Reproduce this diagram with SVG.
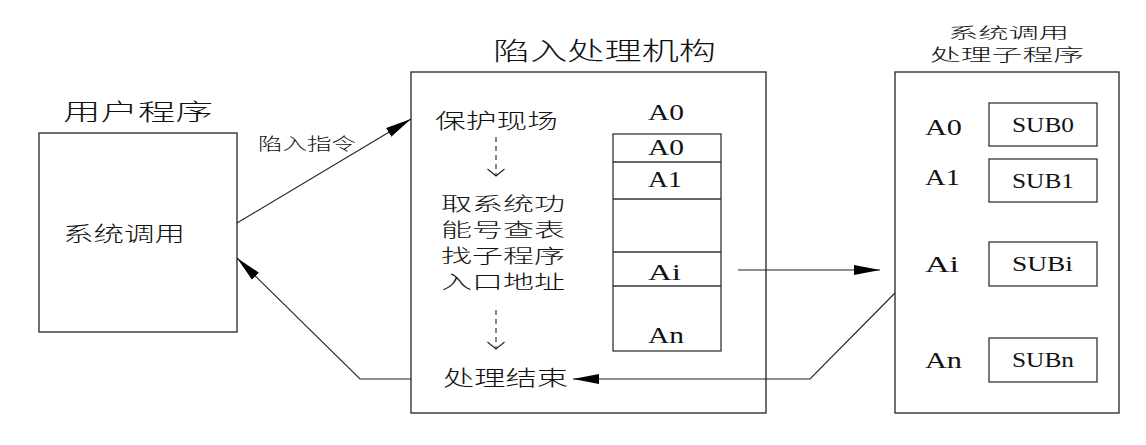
<svg xmlns="http://www.w3.org/2000/svg" width="1146" height="445" viewBox="0 0 1146 445">
<style>
.box{fill:#fff;stroke:#333;stroke-width:1.4}
.cell{fill:none;stroke:#333;stroke-width:1.3}
.cn{font-family:"Noto Sans CJK SC","Noto Sans CJK JP",sans-serif;fill:#111;font-weight:300}
.lt{font-family:"Liberation Serif",serif;fill:#111}
.conn{fill:none;stroke:#222;stroke-width:1.1}
.dash{fill:none;stroke:#222;stroke-width:1.1;stroke-dasharray:5,4}
</style>
<defs>
<marker id="ah" markerUnits="userSpaceOnUse" markerWidth="26" markerHeight="12" refX="26" refY="6" orient="auto">
<path d="M0,1 L26,6 L0,11 z" fill="#000"/>
</marker>
<marker id="open" markerUnits="userSpaceOnUse" markerWidth="20" markerHeight="20" refX="10" refY="10" orient="auto">
<path d="M3,1.5 L10,10 L3,18.5" fill="none" stroke="#222" stroke-width="1.1"/>
</marker>
</defs>
<rect width="1146" height="445" fill="#fff"/>

<g id="user-program">
<text class="cn" x="63" y="120" font-size="23" textLength="150" lengthAdjust="spacingAndGlyphs">用户程序</text>
<rect class="box" x="39" y="133" width="198" height="199"/>
<text class="cn" x="63" y="241" font-size="21" textLength="122" lengthAdjust="spacingAndGlyphs">系统调用</text>
</g>

<g id="trap-mechanism">
<text class="cn" x="493" y="60" font-size="25" textLength="223" lengthAdjust="spacingAndGlyphs">陷入处理机构</text>
<rect class="box" x="411" y="72" width="355" height="341"/>
<text class="cn" x="435" y="128" font-size="21" textLength="123" lengthAdjust="spacingAndGlyphs">保护现场</text>
<text class="cn" x="441" y="211" font-size="19" textLength="124" lengthAdjust="spacingAndGlyphs">取系统功</text>
<text class="cn" x="441" y="237" font-size="19" textLength="124" lengthAdjust="spacingAndGlyphs">能号查表</text>
<text class="cn" x="441" y="263" font-size="19" textLength="124" lengthAdjust="spacingAndGlyphs">找子程序</text>
<text class="cn" x="441" y="289" font-size="19" textLength="124" lengthAdjust="spacingAndGlyphs">入口地址</text>
<text class="cn" x="443" y="385" font-size="21" textLength="125" lengthAdjust="spacingAndGlyphs">处理结束</text>
<line class="dash" x1="496" y1="137" x2="496" y2="176" marker-end="url(#open)"/>
<line class="dash" x1="496" y1="310" x2="496" y2="349" marker-end="url(#open)"/>
</g>

<g id="entry-table">
<text class="lt" x="648" y="120" font-size="23" textLength="36" lengthAdjust="spacingAndGlyphs">A0</text>
<rect class="cell" x="613" y="134" width="108" height="217"/>
<line class="cell" x1="613" y1="162" x2="721" y2="162"/>
<line class="cell" x1="613" y1="199" x2="721" y2="199"/>
<line class="cell" x1="613" y1="252" x2="721" y2="252"/>
<line class="cell" x1="613" y1="286" x2="721" y2="286"/>
<text class="lt" x="648" y="155" font-size="23" textLength="36" lengthAdjust="spacingAndGlyphs">A0</text>
<text class="lt" x="648" y="187" font-size="23" textLength="34" lengthAdjust="spacingAndGlyphs">A1</text>
<text class="lt" x="648" y="280" font-size="23" textLength="33" lengthAdjust="spacingAndGlyphs">Ai</text>
<text class="lt" x="648" y="343" font-size="23" textLength="36" lengthAdjust="spacingAndGlyphs">An</text>
</g>

<g id="subroutines">
<text class="cn" x="948" y="38" font-size="15" textLength="121" lengthAdjust="spacingAndGlyphs">系统调用</text>
<text class="cn" x="930" y="61" font-size="17" textLength="154" lengthAdjust="spacingAndGlyphs">处理子程序</text>
<rect class="box" x="895" y="72" width="224" height="341"/>
<text class="lt" x="925" y="135" font-size="23" textLength="37" lengthAdjust="spacingAndGlyphs">A0</text>
<text class="lt" x="925" y="185" font-size="23" textLength="35" lengthAdjust="spacingAndGlyphs">A1</text>
<text class="lt" x="925" y="272" font-size="23" textLength="34" lengthAdjust="spacingAndGlyphs">Ai</text>
<text class="lt" x="925" y="368" font-size="23" textLength="37" lengthAdjust="spacingAndGlyphs">An</text>
<rect class="cell" x="989" y="103" width="108" height="43"/>
<rect class="cell" x="989" y="159" width="108" height="43"/>
<rect class="cell" x="989" y="242" width="108" height="44"/>
<rect class="cell" x="989" y="338" width="108" height="44"/>
<text class="lt" x="1012" y="132" font-size="20" textLength="62" lengthAdjust="spacingAndGlyphs">SUB0</text>
<text class="lt" x="1012" y="188" font-size="20" textLength="62" lengthAdjust="spacingAndGlyphs">SUB1</text>
<text class="lt" x="1012" y="271" font-size="20" textLength="61" lengthAdjust="spacingAndGlyphs">SUBi</text>
<text class="lt" x="1012" y="367" font-size="20" textLength="62" lengthAdjust="spacingAndGlyphs">SUBn</text>
</g>

<g id="connectors">
<line class="conn" x1="237" y1="223" x2="411" y2="119" marker-end="url(#ah)"/>
<text class="cn" x="258" y="150" font-size="17" textLength="98" lengthAdjust="spacingAndGlyphs">陷入指令</text>
<polyline class="conn" points="411,379 360,379 237,258" marker-end="url(#ah)"/>
<line class="conn" x1="738" y1="270" x2="880" y2="270" marker-end="url(#ah)"/>
<polyline class="conn" points="895,293 810,379 573,379" marker-end="url(#ah)"/>
</g>
</svg>
